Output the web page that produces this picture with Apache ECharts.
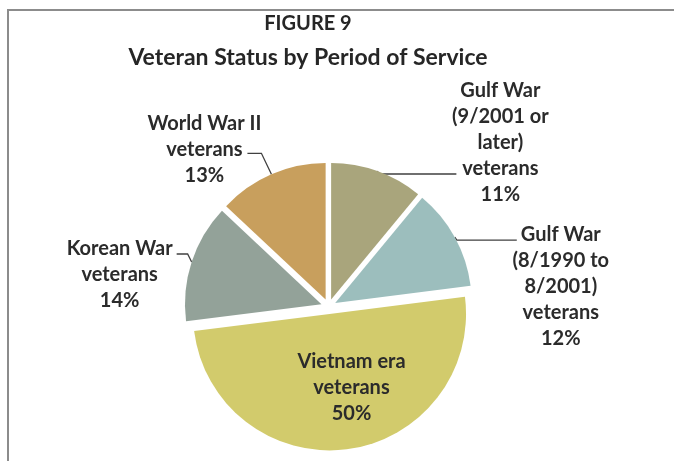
<!DOCTYPE html>
<html>
<head>
<meta charset="utf-8">
<script src="https://cdn.jsdelivr.net/npm/echarts@6/dist/echarts.min.js"></script>
<style>
  html, body { margin: 0; padding: 0; background: #ffffff; }
  #chart { width: 674px; height: 461px; }
</style>
</head>
<body>
<div id="chart"></div>
<script>
// Period of service, clockwise from 12 o'clock
const categories = [
  'Gulf War\n(9/2001 or\nlater)\nveterans',
  'Gulf War\n(8/1990 to\n8/2001)\nveterans',
  'Vietnam era\nveterans',
  'Korean War\nveterans',
  'World War II\nveterans'
];
// Share of veterans, percent
const shares = [11, 12, 50, 14, 13];
const sliceColors = ['#A9A57C', '#9CBEBD', '#D2CB6C', '#93A299', '#C89F5D'];

// Pie geometry
const PIE_CENTER = [328.6, 306.5];
const PIE_RADIUS = 136.5;
const EXPLODE = 7.5;

// Leader-line shape per slice: elbow offset from the arc point, horizontal run,
// and label-centre offset from the end of the run. null elbow = label inside slice.
const leaderShape = [
  { elbow: [1, 3],     run: 78,  text: [44, -31] },
  { elbow: [2, 3],     run: 60,  text: [44, 46] },
  { elbow: null,       run: 0,   text: [13, 3] },
  { elbow: [-4, -8],   run: -11, text: [-57, 21] },
  { elbow: [-10, -21], run: -14, text: [-43, -4] }
];

const FONT = 'Lato, "Open Sans", sans-serif';
const TEXT_COLOR = '#2b2b2b';
const TITLE_COLOR = '#262626';

// Unit vector from the pie centre towards a point
function outward(pt) {
  const dx = pt[0] - PIE_CENTER[0];
  const dy = pt[1] - PIE_CENTER[1];
  const len = Math.sqrt(dx * dx + dy * dy) || 1;
  return [dx / len, dy / len];
}

const pieData = categories.map(function (name, i) {
  return { name: name, value: shares[i] };
});

const chart = echarts.init(document.getElementById('chart'), null, { renderer: 'canvas' });

chart.setOption({
  animation: false,
  backgroundColor: '#ffffff',
  title: [
    {
      text: 'FIGURE 9',
      left: 308,
      top: 14,
      padding: 0,
      textAlign: 'center',
      textStyle: { fontFamily: FONT, fontSize: 20, fontWeight: 'bold', color: TITLE_COLOR }
    },
    {
      text: 'Veteran Status by Period of Service',
      left: 308,
      top: 46,
      padding: 0,
      textAlign: 'center',
      textStyle: { fontFamily: FONT, fontSize: 23, fontWeight: 'bold', color: TITLE_COLOR }
    }
  ],
  graphic: [{
    type: 'rect',
    shape: { x: 8, y: 10, width: 720, height: 520 },
    style: { fill: 'none', stroke: '#8c8c8c', lineWidth: 2 },
    silent: true,
    z: -1
  }],
  series: [
    {
      // exploded slices
      type: 'pie',
      center: PIE_CENTER,
      radius: PIE_RADIUS,
      startAngle: 90,
      clockwise: true,
      selectedMode: 'multiple',
      selectedOffset: EXPLODE,
      emphasis: { disabled: true },
      label: { show: false },
      labelLine: { show: false },
      data: pieData.map(function (d, i) {
        return { name: d.name, value: d.value, selected: true, itemStyle: { color: sliceColors[i] } };
      })
    },
    {
      // category labels with leader lines
      type: 'pie',
      center: PIE_CENTER,
      radius: PIE_RADIUS,
      startAngle: 90,
      clockwise: true,
      silent: true,
      selectedMode: false,
      avoidLabelOverlap: false,
      emphasis: { disabled: true },
      itemStyle: { color: 'rgba(0,0,0,0)' },
      label: {
        show: true,
        position: 'outside',
        formatter: '{b}\n{c}%',
        fontFamily: FONT,
        fontSize: 20,
        fontWeight: 'bold',
        color: TEXT_COLOR,
        lineHeight: 26,
        overflow: 'none'
      },
      labelLine: {
        show: true,
        length: 10,
        length2: 10,
        lineStyle: { color: '#404040', width: 1.3 }
      },
      labelLayout: function (params) {
        const s = leaderShape[params.dataIndex];
        const r = params.labelRect;
        if (!s.elbow) {
          const c = [r.x + r.width / 2, r.y + r.height / 2];
          const u = outward(c);
          return {
            x: c[0] + u[0] * EXPLODE + s.text[0],
            y: c[1] + u[1] * EXPLODE + s.text[1],
            align: 'center',
            verticalAlign: 'middle'
          };
        }
        const arc = params.labelLinePoints[0];
        const u = outward(arc);
        const p0 = [arc[0] + u[0] * EXPLODE, arc[1] + u[1] * EXPLODE];
        const p1 = [p0[0] + s.elbow[0], p0[1] + s.elbow[1]];
        const p2 = [p1[0] + s.run, p1[1]];
        return {
          x: p2[0] + s.text[0],
          y: p2[1] + s.text[1],
          align: 'center',
          verticalAlign: 'middle',
          labelLinePoints: [p0, p1, p2]
        };
      },
      data: pieData.map(function (d, i) {
        const item = { name: d.name, value: d.value };
        if (leaderShape[i].elbow === null) {
          item.label = { position: 'inside' };
          item.labelLine = { show: false };
        }
        return item;
      })
    }
  ]
});
</script>
</body>
</html>
